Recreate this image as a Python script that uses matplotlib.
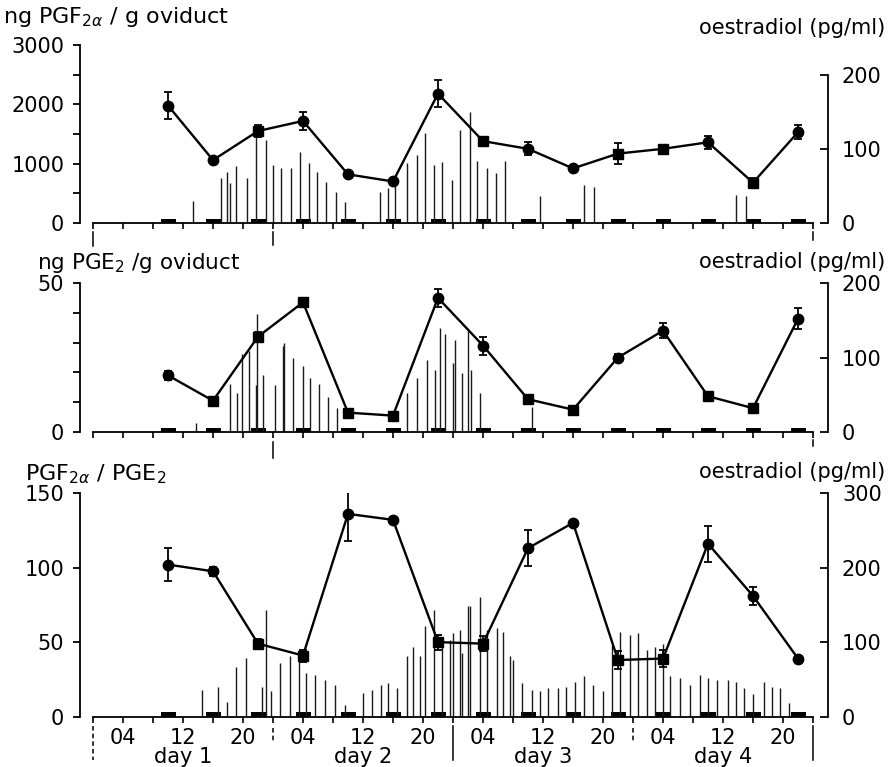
import matplotlib
matplotlib.use("Agg")
import matplotlib.pyplot as plt
import matplotlib.transforms as mtransforms
import numpy as np

plt.rcParams['font.family'] = ['DejaVu Sans']
plt.rcParams['mathtext.fontset'] = 'dejavusans'

# sampling times (hours from 00:00 of day 1)
hours = [10, 16, 22, 28, 34, 40, 46, 52, 58, 64, 70, 76, 82, 88, 94]

# oviduct PGF2a (ng/g) with s.e.m.
pgf = [1980, 1060, 1550, 1720, 820, 700, 2180, 1380, 1250, 920, 1170, 1250, 1360, 680, 1530]
pgf_err = [220, 40, 100, 150, 30, 40, 230, 60, 110, 40, 180, 60, 110, 80, 120]
pgf_mk = ['o', 'o', 's', 'o', 'o', 'o', 'o', 's', 'o', 'o', 's', 's', 'o', 's', 'o']

# oviduct PGE2 (ng/g) with s.e.m.
pge = [19, 10.5, 32, 43.5, 6.5, 5.5, 45, 29, 11, 7.5, 25, 34, 12, 8, 38]
pge_err = [1.5, 0.8, 1.5, 0.8, 1.0, 1.0, 3, 3, 0.8, 0.8, 1.2, 2.5, 0.8, 0.8, 3.5]
pge_mk = ['o', 's', 's', 's', 's', 's', 'o', 'o', 's', 's', 'o', 'o', 's', 's', 'o']

# PGF2a / PGE2 ratio with s.e.m.
ratio = [102, 97.5, 49, 41, 136, 132, 50, 49, 113, 130, 38, 39, 116, 81, 39]
ratio_err = [11, 3, 3, 4, 18, 2, 5, 5, 12, 1, 6, 6, 12, 6, 2]
ratio_mk = ['o', 'o', 's', 's', 'o', 'o', 's', 's', 'o', 'o', 's', 's', 'o', 'o', 'o']

# plasma oestradiol (pg/ml), individual readings behind each panel
e2_h_1 = [13.3, 17.0, 17.9, 18.3, 19.1, 20.5, 21.7, 23.0, 24.0, 25.0, 26.4, 27.6, 28.8,
          29.8, 31.0, 32.4, 33.6, 38.3, 39.3, 40.3, 41.8, 43.2, 44.3, 45.4, 46.5, 47.8,
          48.9, 50.3, 51.2, 52.5, 53.7, 54.9, 59.6, 65.5, 66.8, 85.7, 87.0]
e2_v_1 = [29, 61, 69, 54, 77, 61, 130, 112, 78, 74, 74, 96, 81,
          69, 55, 42, 28, 42, 47, 62, 81, 92, 122, 78, 82, 58,
          126, 150, 83, 74, 67, 83, 36, 51, 49, 38, 36]

e2_h_2 = [13.7, 18.3, 19.2, 19.8, 20.8, 21.7, 21.9, 22.7, 24.2, 25.3, 25.4, 26.7, 28.0,
          28.9, 30.1, 31.3, 32.5, 41.8, 43.2, 44.5, 45.6, 46.2, 46.9, 48.0, 48.3, 49.2,
          50.0, 50.4, 51.6, 58.5]
e2_v_2 = [12, 65, 53, 105, 109, 63, 159, 76, 63, 116, 119, 100, 89,
          72, 65, 47, 32, 52, 73, 96, 83, 139, 132, 93, 123, 79,
          136, 83, 52, 34]

e2_h_3 = [14.5, 16.6, 17.8, 19.1, 20.4, 22.5, 23.0, 23.7, 24.9, 26.3, 27.5, 28.4, 29.6,
          30.9, 32.3, 33.6, 36.0, 37.2, 38.4, 39.3, 40.5, 41.8, 42.6, 43.6, 44.3, 45.4,
          46.5, 47.6, 48.0, 48.9, 49.2, 50.0, 50.3, 51.6, 52.5, 53.9, 54.7, 55.6, 56.0,
          57.2, 58.5, 59.6, 60.7, 62.0, 63.1, 64.3, 65.4, 66.6, 68.0, 69.2, 70.3, 71.6,
          72.7, 73.8, 74.9, 76.0, 76.9, 78.3, 79.6, 80.9, 82.0, 83.2, 84.6, 85.7, 86.8,
          88.0, 89.4, 90.5, 91.6, 92.8]
e2_v_3 = [36, 40, 20, 67, 79, 40, 143, 34, 72, 81, 90, 59, 56,
          49, 43, 16, 32, 36, 43, 45, 38, 81, 94, 81, 121, 143,
          107, 103, 112, 116, 85, 148, 148, 161, 116, 119, 114, 81, 76,
          45, 36, 34, 38, 38, 40, 47, 54, 43, 34, 96, 114, 110,
          112, 90, 94, 98, 54, 52, 43, 56, 52, 49, 49, 47, 38,
          31, 47, 40, 38, 18]

day_labels = ['day 1', 'day 2', 'day 3', 'day 4']
hour_labels = ['04', '12', '20']

W, H = 890, 767
fig = plt.figure(figsize=(W / 100, H / 100), dpi=100)

def fx(px):
    return px / W

def fy(py):
    return 1 - py / H

XMIN, XMAX = -1.8, 98.0
left_px, right_px = 79.5, 828.0
ax_w = fx(right_px) - fx(left_px)

TICK_FS = 15
LAB_FS = 15


def make_panel(top_px, bot_px, yvals, yerr, marks, ymax, yticks, yminor,
               e2_h, e2_v, r_max, r_ticks, r_bound):
    ax = fig.add_axes([fx(left_px), fy(bot_px), ax_w, (bot_px - top_px) / H])
    ax2 = ax.twinx()
    ax.set_zorder(ax2.get_zorder() + 1)
    ax.patch.set_visible(False)

    for a in (ax, ax2):
        a.set_xlim(XMIN, XMAX)
        a.spines['top'].set_visible(False)

    # oestradiol readings as thin vertical strokes
    ax2.vlines(e2_h, 0, e2_v, colors='#1a1a1a', linewidth=1.0)
    ax2.bar(hours, [6] * len(hours), width=2.0, color='black', linewidth=0)
    ax2.set_ylim(0, r_max)
    ax2.spines['left'].set_visible(False)
    ax2.spines['bottom'].set_visible(False)
    ax2.spines['right'].set_bounds(0, r_bound)
    ax2.spines['right'].set_linewidth(1.3)
    ax2.set_yticks(r_ticks)
    ax2.set_yticklabels([str(t) for t in r_ticks], fontsize=TICK_FS)
    ax2.tick_params(axis='y', direction='in', length=6, width=1.3, pad=10)

    # main series
    ax.errorbar(hours, yvals, yerr=yerr, fmt='none', ecolor='black',
                elinewidth=1.3, capsize=3, capthick=1.3, zorder=3)
    ax.plot(hours, yvals, color='black', linewidth=1.7, zorder=4)
    for h, v, m in zip(hours, yvals, marks):
        ax.plot([h], [v], marker=m, color='black', markersize=7.5 if m == 'o' else 7,
                zorder=5, linestyle='none')

    ax.set_ylim(0, ymax)
    ax.spines['right'].set_visible(False)
    ax.spines['left'].set_linewidth(1.3)
    ax.spines['bottom'].set_linewidth(1.3)
    ax.spines['bottom'].set_bounds(0, 96)
    ax.set_yticks(yticks)
    ax.set_yticklabels([str(t) for t in yticks], fontsize=TICK_FS)
    ax.set_yticks(yminor, minor=True)
    ax.tick_params(axis='y', which='both', direction='out', length=5, width=1.3, pad=6)
    ax.set_xticks(np.arange(0, 97, 4))
    ax.set_xticklabels([])
    ax.tick_params(axis='x', direction='out', length=4, width=1.2)
    return ax, ax2


def day_marks(ax, marks):
    tr = mtransforms.blended_transform_factory(ax.transData, fig.transFigure)
    for h, y0, y1, ls in marks:
        ax.plot([h, h], [fy(y0), fy(y1)], transform=tr, color='black',
                linewidth=1.1, linestyle=ls, clip_on=False)


# panel 1: PGF2a
ax1, _ = make_panel(45, 223, pgf, pgf_err, pgf_mk, 3000, [0, 1000, 2000, 3000],
                    [500, 1500, 2500], e2_h_1, e2_v_1, 240, [0, 100, 200], 200)
day_marks(ax1, [(0, 232, 246, '-'), (24, 232, 245, '-'), (96, 232, 240, '-')])

# panel 2: PGE2
ax_2, _ = make_panel(283, 432, pge, pge_err, pge_mk, 50, [0, 50],
                     [10, 20, 30, 40], e2_h_2, e2_v_2, 200, [0, 100, 200], 200)
day_marks(ax_2, [(24, 442, 458, '-'), (96, 440, 446, '-')])

# panel 3: ratio
ax3, _ = make_panel(493, 716.7, ratio, ratio_err, ratio_mk, 150, [0, 50, 100, 150],
                    [], e2_h_3, e2_v_3, 300, [0, 100, 200, 300], 300)
day_marks(ax3, [(0, 726, 760, (0, (3, 2))), (24, 728, 742, (0, (3, 2))),
                (48, 726, 760, '-'), (72, 728, 742, (0, (3, 2))), (96, 726, 760, '-')])

tr3 = mtransforms.blended_transform_factory(ax3.transData, fig.transFigure)
for d in range(4):
    for k, lab in zip((4, 12, 20), hour_labels):
        ax3.text(24 * d + k, fy(738), lab, transform=tr3, ha='center', va='center',
                 fontsize=TICK_FS)
    ax3.text(24 * d + 12, fy(757), day_labels[d], transform=tr3, ha='center',
             va='center', fontsize=TICK_FS)

# axis captions
fig.text(fx(3), fy(17), r'ng PGF$_{2\alpha}$ / g oviduct', fontsize=16,
         ha='left', va='center')
fig.text(fx(37), fy(263), r'ng PGE$_{2}$ /g oviduct', fontsize=15.5,
         ha='left', va='center')
fig.text(fx(25), fy(474), r'PGF$_{2\alpha}$ / PGE$_{2}$', fontsize=16,
         ha='left', va='center')
for yy in (28, 262, 472):
    fig.text(fx(885), fy(yy), 'oestradiol (pg/ml)', fontsize=LAB_FS,
             ha='right', va='center')

fig.savefig('out.png', dpi=100)
